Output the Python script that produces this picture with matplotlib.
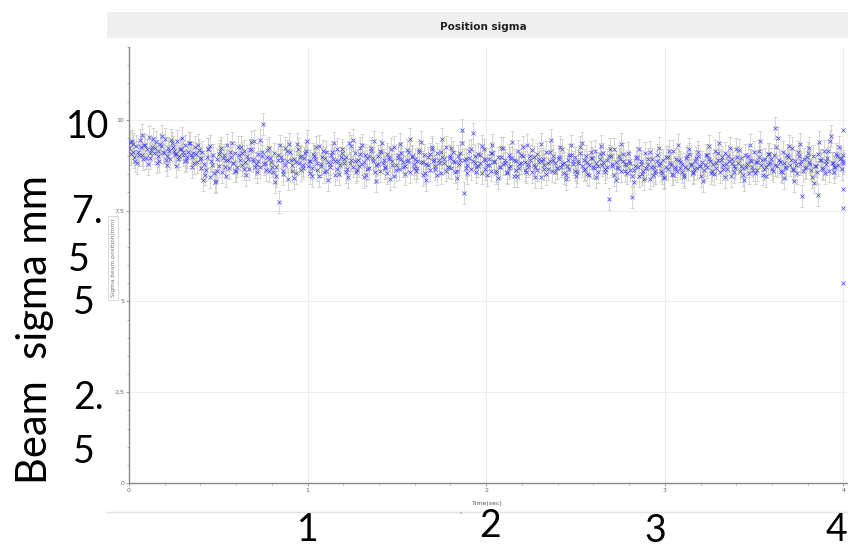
import numpy as np
import matplotlib.pyplot as plt
from matplotlib.patches import Rectangle
from matplotlib.lines import Line2D
from matplotlib.ticker import MultipleLocator

sigma_rows_a = [
    [9.21, 9.05, 9.34, 8.98, 9.27, 9.12, 9.45, 9.02, 8.91, 9.30, 9.18, 9.52, 8.95, 9.24, 9.08, 9.39, 9.15, 8.87, 9.28, 9.10,
     9.47, 9.01, 9.22, 8.93, 9.35, 9.14, 9.06, 9.41, 8.99, 9.19, 9.03, 9.29, 8.88, 9.12, 9.36, 8.96, 9.09, 9.25, 8.84, 9.17],
    [8.95, 9.11, 8.78, 8.62, 9.20, 8.41, 8.87, 9.04, 8.29, 8.93, 8.72, 9.15, 8.55, 9.02, 8.88, 9.31, 8.67, 8.96, 8.81, 9.08,
     8.59, 9.24, 8.90, 8.74, 9.13, 8.83, 8.99, 8.64, 9.18, 8.86, 9.42, 8.77, 9.05, 8.69, 9.00, 9.89, 8.82, 9.16, 8.58, 8.94],
    [8.71, 9.07, 8.46, 8.89, 7.74, 8.98, 8.60, 9.22, 8.85, 8.37, 9.10, 8.76, 8.92, 8.53, 9.33, 8.80, 9.01, 8.68, 8.95, 9.14,
     8.73, 8.87, 8.44, 9.06, 8.91, 8.62, 9.27, 8.79, 8.98, 8.57, 9.12, 8.84, 8.70, 9.03, 8.93, 8.49, 9.19, 8.86, 8.75, 9.08],
    [8.82, 8.97, 8.63, 9.36, 8.90, 8.71, 9.09, 8.55, 8.88, 9.21, 8.78, 8.41, 9.02, 8.94, 8.67, 9.15, 8.85, 9.40, 8.74, 8.99,
     8.59, 9.11, 8.81, 8.69, 9.05, 8.92, 8.36, 8.87, 9.24, 8.76, 8.95, 8.64, 9.08, 8.83, 8.72, 9.17, 8.89, 8.56, 9.00, 8.79],
    [8.93, 8.68, 9.12, 8.84, 8.47, 9.04, 8.77, 8.96, 8.61, 9.19, 8.86, 8.73, 9.07, 8.90, 8.52, 8.98, 8.80, 9.26, 8.70, 8.95,
     8.66, 9.10, 8.83, 8.58, 9.01, 8.88, 9.72, 7.98, 8.92, 8.75, 9.14, 8.63, 8.86, 8.99, 8.71, 9.06, 8.81, 8.54, 9.18, 8.89],
    [8.74, 8.91, 8.60, 9.08, 8.83, 8.52, 8.96, 8.69, 9.23, 8.79, 8.88, 8.57, 9.02, 8.72, 8.94, 8.46, 8.85, 9.15, 8.66, 8.81,
     8.99, 8.62, 9.31, 8.77, 8.89, 8.55, 8.97, 8.70, 9.06, 8.84, 8.43, 8.92, 8.76, 9.11, 8.65, 8.87, 8.58, 9.00, 8.80, 8.68],
    [8.93, 8.71, 9.18, 8.82, 8.49, 8.90, 8.64, 9.04, 8.78, 8.96, 8.55, 8.86, 9.24, 8.73, 8.61, 9.01, 8.83, 8.47, 8.95, 8.69,
     9.13, 8.80, 8.57, 8.92, 8.75, 9.07, 8.63, 8.88, 7.82, 8.99, 8.72, 9.20, 8.84, 8.66, 8.91, 8.59, 9.05, 8.77, 8.52, 8.87],
    [8.81, 7.88, 8.62, 8.94, 8.70, 8.45, 8.87, 8.58, 9.09, 8.66, 8.79, 8.38, 8.92, 8.69, 8.53, 9.03, 8.74, 8.60, 8.88, 8.41,
     8.97, 8.65, 8.82, 8.50, 9.14, 8.71, 8.59, 8.90, 8.67, 8.77, 8.48, 8.95, 8.63, 9.06, 8.75, 8.56, 8.86, 8.68, 8.99, 8.73],
    [8.84, 8.61, 9.02, 8.70, 8.93, 8.52, 8.79, 9.15, 8.66, 8.88, 8.57, 8.97, 8.74, 9.08, 8.63, 8.85, 8.46, 8.91, 8.72, 9.19,
     8.80, 8.59, 8.95, 8.68, 9.04, 8.77, 8.54, 8.89, 8.71, 9.11, 8.83, 8.62, 8.98, 8.75, 8.49, 8.92, 8.69, 9.06, 8.81, 8.64],
    [9.03, 9.76, 8.72, 8.90, 8.58, 9.12, 8.81, 8.67, 8.96, 8.75, 9.21, 8.63, 8.87, 8.52, 8.99, 8.78, 7.90, 8.93, 8.70, 9.08,
     8.84, 8.61, 9.00, 8.73, 8.55, 7.92, 8.88, 8.66, 9.14, 8.79, 8.95, 8.59, 9.55, 8.82, 8.69, 9.05, 8.76, 8.91, 8.64, 8.86],
]

# serie B: amostras intercaladas (meio passo depois)
sigma_rows_b = [
    [9.38, 9.41, 9.12, 8.86, 8.80, 9.03, 9.25, 9.57, 9.31, 8.94, 8.78, 9.09, 9.16, 9.48, 9.22, 8.82, 9.00, 9.33, 9.55, 9.07,
     8.89, 8.76, 9.13, 9.44, 9.26, 9.05, 8.72, 8.91, 9.20, 9.50, 9.11, 8.85, 8.98, 9.37, 9.02, 8.70, 8.81, 9.06, 9.30, 8.92],
    [8.66, 8.35, 8.49, 8.98, 9.19, 9.28, 8.74, 8.52, 8.31, 8.60, 9.05, 9.22, 8.95, 8.70, 8.44, 8.89, 9.12, 9.35, 8.82, 8.58,
     8.71, 9.02, 9.26, 9.09, 8.63, 8.47, 8.92, 9.17, 9.38, 8.93, 8.69, 8.55, 8.85, 9.45, 9.10, 8.78, 8.61, 8.97, 9.21, 8.84],
    [8.57, 8.28, 8.69, 9.04, 9.29, 8.88, 8.50, 8.76, 9.13, 9.32, 8.90, 8.58, 8.39, 8.83, 9.20, 8.97, 8.62, 8.74, 9.08, 9.41,
     8.86, 8.53, 8.67, 9.00, 9.24, 8.81, 8.45, 8.72, 9.15, 8.94, 8.60, 8.33, 8.79, 9.11, 9.36, 8.87, 8.64, 8.51, 8.96, 9.18],
    [8.91, 8.56, 8.42, 8.80, 9.27, 9.44, 8.86, 8.61, 8.73, 9.06, 9.30, 8.84, 8.48, 8.65, 9.01, 9.23, 8.95, 8.57, 8.30, 8.77,
     9.14, 9.37, 8.89, 8.68, 8.54, 8.98, 9.20, 8.75, 8.44, 8.62, 9.03, 9.33, 8.92, 8.71, 8.50, 8.85, 9.12, 9.48, 8.97, 8.66],
    [8.59, 8.87, 9.16, 9.39, 8.83, 8.52, 8.34, 8.76, 9.05, 9.25, 8.90, 8.64, 8.49, 8.81, 9.10, 9.46, 8.93, 8.60, 8.70, 9.01,
     9.22, 8.85, 8.55, 8.40, 8.79, 9.09, 9.35, 8.88, 8.67, 8.53, 8.94, 9.18, 9.62, 8.82, 8.57, 8.72, 9.03, 9.27, 8.91, 8.63],
    [8.48, 8.75, 9.07, 9.30, 8.86, 8.58, 8.39, 8.69, 8.98, 9.21, 8.80, 8.54, 8.66, 8.95, 9.38, 8.90, 8.61, 8.45, 8.77, 9.04,
     9.26, 8.83, 8.57, 8.71, 9.00, 9.17, 8.74, 8.43, 8.62, 8.93, 9.32, 8.87, 8.65, 8.51, 8.82, 9.11, 9.43, 8.89, 8.56, 8.68],
    [8.97, 9.24, 8.79, 8.53, 8.37, 8.72, 9.02, 9.29, 8.85, 8.60, 8.46, 8.81, 9.09, 9.36, 8.88, 8.63, 8.50, 8.76, 9.12, 8.94,
     8.67, 8.41, 8.73, 9.06, 9.27, 8.84, 8.55, 8.69, 8.99, 9.19, 8.78, 8.48, 8.33, 8.70, 9.01, 9.34, 8.86, 8.59, 8.74, 9.08],
    [8.62, 8.44, 8.28, 8.73, 8.96, 9.18, 8.77, 8.51, 8.36, 8.66, 8.91, 9.12, 8.70, 8.47, 8.58, 8.85, 9.23, 8.80, 8.54, 8.40,
     8.69, 8.98, 9.15, 8.75, 8.49, 8.64, 8.92, 9.31, 8.83, 8.57, 8.43, 8.71, 9.00, 9.20, 8.78, 8.52, 8.65, 8.94, 9.10, 8.72],
    [8.46, 8.31, 8.74, 9.03, 9.27, 8.86, 8.60, 8.50, 8.80, 9.09, 9.35, 8.90, 8.63, 8.42, 8.77, 9.00, 9.22, 8.82, 8.56, 8.68,
     8.97, 9.16, 8.73, 8.47, 8.34, 8.71, 8.99, 9.30, 8.87, 8.61, 8.53, 8.84, 9.13, 9.40, 8.89, 8.64, 8.45, 8.79, 9.06, 8.92],
    [8.58, 8.76, 9.24, 9.49, 8.83, 8.55, 8.39, 8.70, 9.02, 9.28, 8.88, 8.62, 8.30, 8.74, 9.10, 9.33, 8.85, 8.59, 8.66, 8.98,
     9.21, 8.79, 8.41, 8.27, 8.72, 9.05, 9.38, 8.90, 8.63, 8.52, 8.86, 9.14, 9.42, 8.81, 8.57, 8.69, 9.01, 9.26, 8.95, 8.80],
]
sigma_a = np.concatenate(sigma_rows_a)
sigma_b = np.concatenate(sigma_rows_b)
tempo_a = np.linspace(0, 4.0, len(sigma_a))
tempo_b = np.linspace(0.005, 3.995, len(sigma_b))
erro = 0.3

# pontos soltos na borda direita (t = 4 s)
borda_t = [4.0, 4.0, 4.0, 4.0, 4.0]
borda_sigma = [9.72, 9.03, 8.08, 7.57, 5.5]

x_ticks = [0, 1, 2, 3, 4]
y_ticks = [0, 2.5, 5, 7.5, 10]
y_tick_labels = ['0', '2,5', '5', '7,5', '10']

W, H = 848, 552


def px(x, y):
    # pixel da imagem -> coordenadas da figura
    return x / W, 1 - y / H


fig = plt.figure(figsize=(8.48, 5.52), dpi=100)
fig.patch.set_facecolor('white')

# faixa do titulo
x0, y0 = px(107, 38)
fig.patches.append(Rectangle((x0, y0), 1 - x0, 26 / H, transform=fig.transFigure,
                             facecolor='#efefef', edgecolor='none', zorder=0))
fig.text(*px(483, 27), 'Position sigma', ha='center', va='center', fontsize=7.5,
         fontweight='bold', family=['Liberation Sans Narrow', 'DejaVu Sans'], color='#222222')

# eixo principal
l, b = px(129, 483)
r, t = px(847, 47)
ax = fig.add_axes([l, b, r - l, t - b])
for tt, ss in [(tempo_a, sigma_a), (tempo_b, sigma_b)]:
    ax.errorbar(tt, ss, yerr=erro, fmt='none', ecolor='#c6c6be', elinewidth=0.5,
                capsize=1.6, capthick=0.5, zorder=2)
for tt, ss in [(tempo_a, sigma_a), (tempo_b, sigma_b)]:
    ax.plot(tt, ss, 'x', color='#4a4af5', markersize=2.4, markeredgewidth=0.55, zorder=3)
ax.plot(borda_t, borda_sigma, 'x', color='#4a4af5', markersize=2.4, markeredgewidth=0.55, zorder=3,
        clip_on=False)

ax.set_xlim(0, 4.02)
ax.set_ylim(0, 12)
ax.set_xticks(x_ticks)
ax.set_xticklabels([str(v) for v in x_ticks])
ax.set_yticks(y_ticks)
ax.set_yticklabels(y_tick_labels)
ax.xaxis.set_minor_locator(MultipleLocator(0.2))
ax.yaxis.set_minor_locator(MultipleLocator(0.5))
ax.tick_params(axis='both', which='major', labelsize=4.5, labelcolor='#666666', color='#888888',
               length=2, width=0.6, pad=1.5)
ax.tick_params(axis='both', which='minor', color='#999999', length=1.5, width=0.5)
ax.grid(True, which='major', color='#ececf2', linewidth=0.7)
for lado in ['top', 'right']:
    ax.spines[lado].set_visible(False)
for lado in ['left', 'bottom']:
    ax.spines[lado].set_color('#8a8a8a')
    ax.spines[lado].set_linewidth(1.0)

# rotulos pequenos originais
fig.text(*px(487, 503), 'Time(sec)', ha='center', va='center', fontsize=4.5, color='#555555')
fig.text(*px(113, 258), 'Sigma beam position(mm)', ha='center', va='center', fontsize=4.2,
         color='#777777', rotation=90,
         bbox=dict(boxstyle='square,pad=0.4', facecolor='white', edgecolor='#cccccc', linewidth=0.5))
fig.text(*px(461, 513), 'ııı', ha='center', va='center', fontsize=3, color='#777777')
fig.add_artist(Line2D([107 / W, 1], [1 - 512 / H, 1 - 512 / H], transform=fig.transFigure,
                      color='#e4e4e4', linewidth=1.0))

# textos grandes sobrepostos
grande = dict(fontsize=27, family=['Lato', 'DejaVu Sans'], color='black', ha='center', va='center')
for txt, xx, yy in [('10', 88, 127), ('7.', 87, 212), ('5', 79, 260), ('5', 84, 303),
                    ('2.', 89, 398), ('5', 84, 452),
                    ('1', 308, 530), ('2', 490, 526), ('3', 655, 531), ('4', 836, 530)]:
    fig.text(*px(xx, yy), txt, **grande)
fig.text(*px(35, 330), 'Beam  sigma mm', rotation=90, fontsize=30,
         family=['Lato', 'DejaVu Sans'], color='black', ha='center', va='center')

plt.savefig('out.png', dpi=100)
